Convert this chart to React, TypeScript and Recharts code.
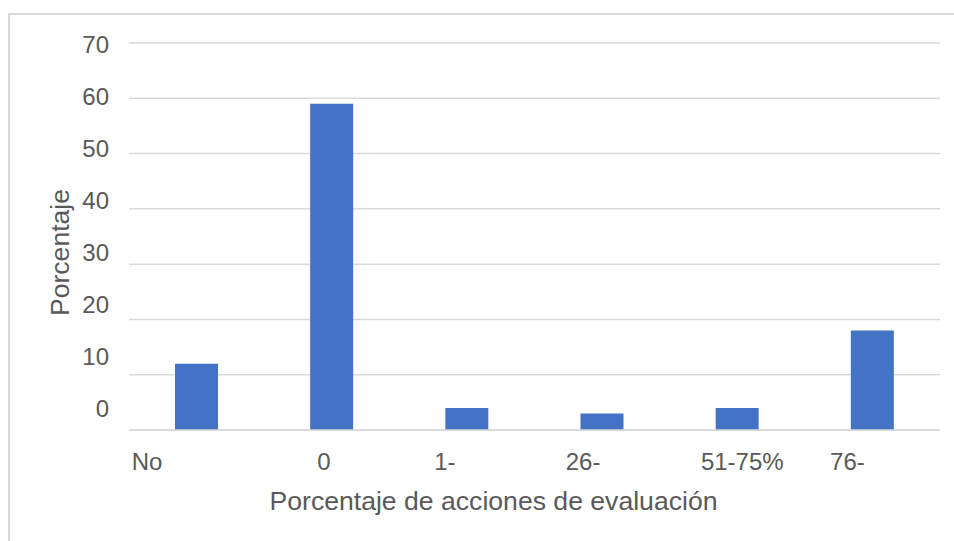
import React from "react";
import { BarChart, Bar, XAxis, YAxis, CartesianGrid } from "recharts";

const categories = ["No", "0", "1-", "26-", "51-75%", "76-"];
const values = [12, 59, 4, 3, 4, 18];
const yTicks = [0, 10, 20, 30, 40, 50, 60, 70];
const yTitle = "Porcentaje";
const xTitle = "Porcentaje de acciones de evaluación";

const data = categories.map((c, i) => ({ category: c, value: values[i] }));

const FONT = "'Liberation Sans', Arial, sans-serif";
const TEXT = "#595959";
const GRID = "#d9d9d9";
const xLabelShift = [-49.6, -7.8, -22, -19, 5, -25];

const YTick = (props: any) => {
  const { x, y, payload } = props;
  const v = payload.value as number;
  const off = 1.7 - (70 - v) * 0.329;
  return (
    <text x={x} y={y + off} dy="0.355em" textAnchor="end" fill={TEXT} fontSize={24} fontFamily={FONT}>
      {v}
    </text>
  );
};

const XTick = (props: any) => {
  const { x, y, payload, index } = props;
  return (
    <text x={x + (xLabelShift[index] ?? 0)} y={y + 40} textAnchor="middle" fill={TEXT} fontSize={24} fontFamily={FONT}>
      {payload.value}
    </text>
  );
};

export default function App() {
  return (
    <div style={{ position: "absolute", left: 0, top: 0, width: 954, height: 541, overflow: "hidden", background: "#fff" }}>
      <div
        style={{
          position: "absolute",
          left: 8,
          top: 13,
          width: 1000,
          height: 600,
          border: `2px solid ${GRID}`,
          boxSizing: "border-box",
        }}
      />
      <div style={{ position: "absolute", left: 0, top: 0 }}>
        <BarChart width={954} height={541} data={data} margin={{ top: 43, right: 14, bottom: 0, left: 0 }}>
          <CartesianGrid vertical={false} stroke={GRID} strokeWidth={1.5} />
          <XAxis
            dataKey="category"
            height={111}
            axisLine={{ stroke: GRID, strokeWidth: 1.5 }}
            tickLine={false}
            tickSize={0}
            tickMargin={0}
            interval={0}
            tick={<XTick />}
            label={{
              content: (p: any) => {
                const vb = p.viewBox || {};
                return (
                  <text
                    x={vb.x + vb.width / 2 - 41}
                    y={vb.y + 80}
                    textAnchor="middle"
                    fill={TEXT}
                    fontSize={26.6}
                    fontFamily={FONT}
                  >
                    {xTitle}
                  </text>
                );
              },
            }}
          />
          <YAxis
            width={129}
            domain={[0, 70]}
            ticks={yTicks}
            axisLine={false}
            tickLine={false}
            tickSize={0}
            tickMargin={20}
            tick={<YTick />}
            label={{
              content: (p: any) => {
                const vb = p.viewBox || {};
                const cy = vb.y + vb.height / 2 + 16;
                return (
                  <text
                    x={69}
                    y={cy}
                    transform={`rotate(-90 69 ${cy})`}
                    textAnchor="middle"
                    fill={TEXT}
                    fontSize={26.6}
                    fontFamily={FONT}
                  >
                    {yTitle}
                  </text>
                );
              },
            }}
          />
          <Bar dataKey="value" fill="#4472C4" barSize={43} isAnimationActive={false} />
        </BarChart>
      </div>
    </div>
  );
}
